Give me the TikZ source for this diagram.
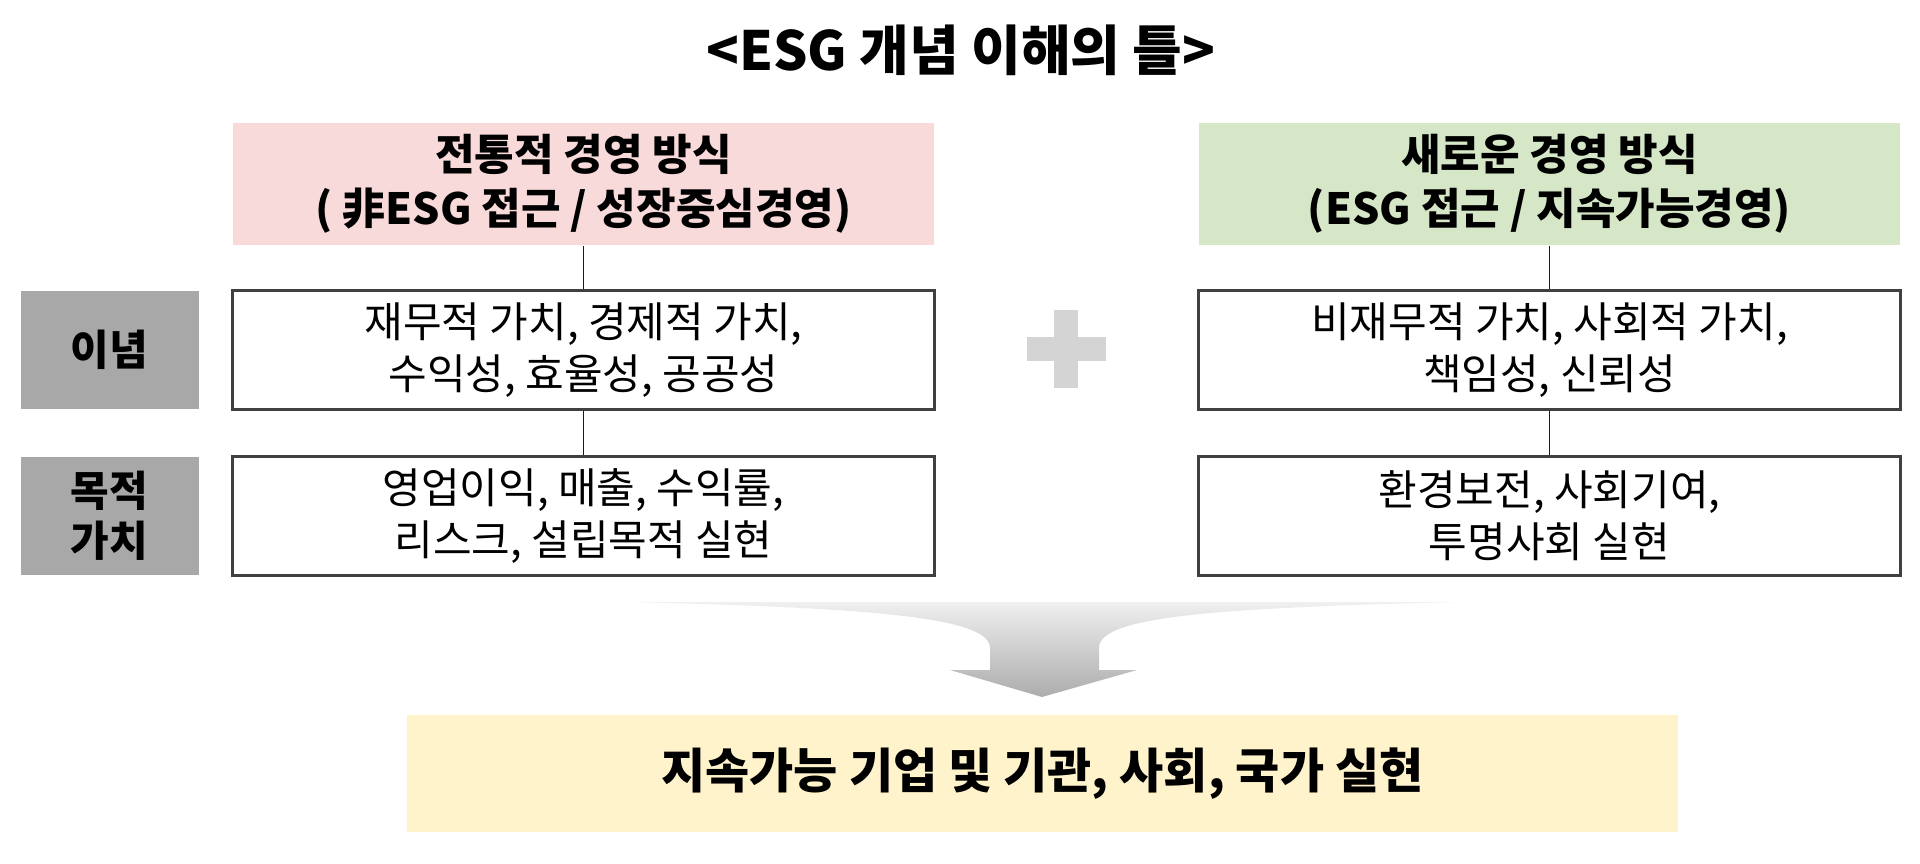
\documentclass[tikz,border=0pt]{standalone}
\usepackage{fontspec}
\setmainfont{Noto Sans CJK KR}
\usepackage{tikz}
\usetikzlibrary{positioning}
\definecolor{oldpink}{HTML}{F9DADA}
\definecolor{newgreen}{HTML}{D5E7C7}
\definecolor{goalyellow}{HTML}{FFF3CC}
\definecolor{labelgray}{HTML}{A8A8A8}
\definecolor{plusgray}{HTML}{D4D4D4}

\begin{document}
\begin{tikzpicture}[x=1pt, y=-1pt, line width=1.5pt, node distance=166pt,
    head/.style={rectangle, minimum width=701pt, minimum height=122pt, align=center,
        font=\bfseries\fontsize{43}{54}\selectfont},
    valuebox/.style={rectangle, draw=black!75, line width=2.5pt, fill=white,
        minimum width=702pt, minimum height=119pt, align=center,
        font=\fontsize{42}{52}\selectfont},
    tag/.style={rectangle, fill=labelgray, minimum width=178pt, minimum height=118pt,
        align=center, font=\bfseries\fontsize{42}{50}\selectfont}]
        \useasboundingbox (0,0) rectangle (1920,864);
        \node [font=\bfseries\fontsize{54}{64}\selectfont] (title) at (961,50) {<ESG 개념 이해의 틀>};

        \node [head, fill=oldpink] (old) at (583.5,184) {전통적 경영 방식\\( 非ESG 접근 / 성장중심경영)};
        \node [valuebox, below of=old] (oldidea) {재무적 가치, 경제적 가치,\\수익성, 효율성, 공공성};
        \node [valuebox, below of=oldidea] (oldgoal) {영업이익, 매출, 수익률,\\리스크, 설립목적 실현};

        \node [tag, left of=oldidea, node distance=474pt] (idea) {이념};
        \node [tag, left of=oldgoal, node distance=474pt] (goalvalue) {목적\\가치};

        \node [head, fill=newgreen] (new) at (1549.5,184) {새로운 경영 방식\\(ESG 접근 / 지속가능경영)};
        \node [valuebox, below of=new] (newidea) {비재무적 가치, 사회적 가치,\\책임성, 신뢰성};
        \node [valuebox, below of=newidea] (newgoal) {환경보전, 사회기여,\\투명사회 실현};

        \path [draw=black!90] (old) edge (oldidea);
        \path [draw=black!90] (oldidea) edge (oldgoal);
        \path [draw=black!90] (new) edge (newidea);
        \path [draw=black!90] (newidea) edge (newgoal);

        % plus sign
        \fill [plusgray] (1054,310) rectangle (1078,388);
        \fill [plusgray] (1027,337) rectangle (1106,361);

        % funnel arrow
        \shade [top color=gray!12, bottom color=gray!65]
            (629,602) -- (1461,602) .. controls (1200,608) and (1099,618) .. (1099,648)
            -- (1099,670) -- (1137,670) -- (1042,697) -- (950,670) -- (990,670)
            -- (990,648) .. controls (990,618) and (880,608) .. (629,602) -- cycle;

        \node [fill=goalyellow, minimum width=1271pt, minimum height=117pt,
            font=\bfseries\fontsize{48}{58}\selectfont] (goal) at (1042.5,773.5) {지속가능 기업 및 기관, 사회, 국가 실현};
    \end{tikzpicture}
\end{document}
